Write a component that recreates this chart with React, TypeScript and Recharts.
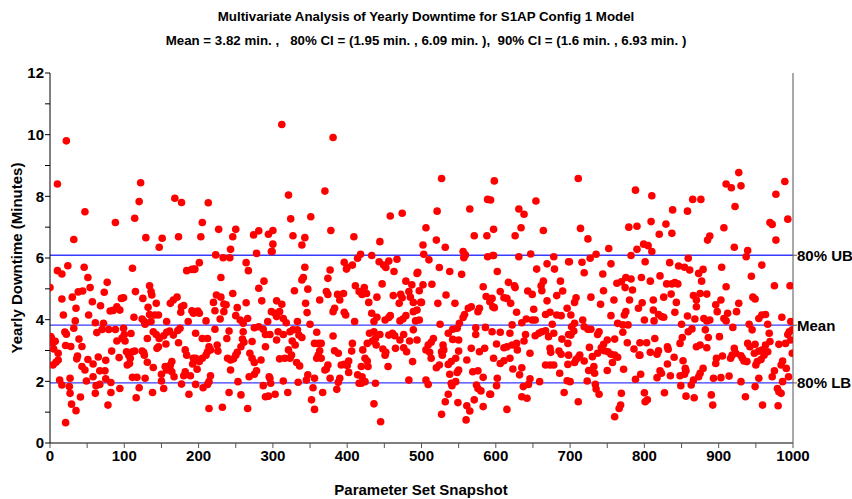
import React from 'react';
import { ScatterChart, Scatter, XAxis, YAxis, ReferenceLine } from 'recharts';

const titleLine1 = 'Multivariate Analysis of Yearly Downtime for S1AP Config 1 Model';
const titleLine2 = 'Mean = 3.82 min. ,   80% CI = (1.95 min. , 6.09 min. ),  90% CI = (1.6 min. , 6.93 min. )';
const xAxisTitle = 'Parameter Set Snapshot';
const yAxisTitle = 'Yearly Downtime (Minutes)';

const meanValue = 3.82;
const lower80 = 1.95;
const upper80 = 6.09;
const refLabels: Record<string, string> = { '1.95': '80% LB', '3.82': 'Mean', '6.09': '80% UB' };

const xTicks = [0, 50, 100, 150, 200, 250, 300, 350, 400, 450, 500, 550, 600, 650, 700, 750, 800, 850, 900, 950, 1000];
const yTicks = [0, 1, 2, 3, 4, 5, 6, 7, 8, 9, 10, 11, 12];

// [snapshot, yearly downtime (min)], by region
const snap0to100 = [
  [0,5.04],[10,8.4],[22,9.8],[47,7.5],[88,7.15],[32,6.6],[10,5.59],[16,5.48],[24,5.75],[46,5.7],[51,5.37],[16,4.67],[30,4.73],[35,4.37],[38,4.9],[44,4.93],[54,5.04],[77,5.21],[73,4.89],[57,4.58],[68,4.45],[52,4.15],[18,4.15],[34,3.96],[61,3.9],[72,3.88],[81,4.28],[85,4.3],[90,4.42],[96,4.69],[94,4.31],[2,3.4],[4,3.25],[7,3.3],[20,3.6],[22,3.53],[32,3.72],[63,3.58],[70,3.68],[79,3.68],[88,3.68],[39,3.37],[21,3.16],[28,3.13],[43,3.13],[11,2.91],[90,3.31],[97,3.4],[83,2.98],[37,2.82],[36,2.73],[51,2.71],[65,2.79],[75,2.68],[93,2.77],[11,2.69],[4,2.53],[43,2.48],[47,2.37],[58,2.56],[67,2.34],[74,2.34],[13,2.04],[16,1.88],[27,2.1],[26,1.83],[49,2.01],[58,2.15],[62,1.86],[67,1.9],[75,2.08],[82,1.96],[94,1.77],[27,1.61],[61,1.61],[82,1.64],[41,1.49],[29,1.26],[78,1.23],[35,1.05],[21,0.66],[1,3.45],[5,3.05],[8,2.62]
];
const snap100to200 = [
  [122,8.44],[120,7.83],[114,7.29],[129,6.66],[151,6.64],[147,6.35],[173,6.69],[168,7.94],[177,7.8],[111,5.67],[184,5.59],[191,5.63],[194,5.63],[99,4.71],[115,4.91],[125,4.69],[134,5.1],[136,4.91],[137,4.8],[132,4.4],[143,4.53],[162,4.53],[166,4.64],[171,4.73],[177,4.42],[180,4.46],[191,4.29],[193,4.21],[113,4.08],[124,4.02],[127,3.94],[128,3.85],[136,3.94],[134,4.17],[141,4.15],[146,4.15],[157,3.94],[176,4.24],[186,3.94],[99,3.72],[100,3.52],[101,3.31],[109,3.55],[139,3.61],[143,3.52],[147,3.39],[153,3.48],[157,3.59],[161,3.63],[166,3.5],[172,3.65],[175,3.72],[131,3.39],[156,3.21],[173,3.25],[146,3.12],[144,3.07],[103,2.96],[106,2.85],[108,2.75],[111,2.96],[114,2.98],[107,2.58],[104,2.53],[124,2.98],[126,2.94],[127,2.85],[182,3.02],[184,2.85],[193,2.75],[131,2.62],[139,2.45],[164,2.64],[162,2.53],[161,2.42],[155,2.48],[157,2.37],[164,2.31],[167,2.15],[192,2.56],[182,2.31],[180,2.18],[189,2.18],[111,2.13],[117,2.13],[128,2.1],[150,2.23],[150,2.01],[120,1.79],[153,1.77],[177,1.91],[116,1.47],[138,1.64],[187,1.58]
];
const snap200to300 = [
  [213,7.79],[205,7.15],[203,6.69],[227,6.93],[250,6.93],[246,6.69],[274,6.75],[281,6.88],[294,6.77],[243,6.28],[223,6.1],[233,6.01],[242,6.01],[278,6.15],[298,6.21],[201,5.85],[195,5.64],[264,5.85],[267,5.59],[230,5.37],[288,5.25],[281,5.02],[246,4.85],[224,4.8],[230,4.73],[234,4.51],[237,4.48],[220,4.56],[222,4.29],[199,4.28],[201,4.21],[234,4.26],[252,4.39],[264,4.55],[285,4.61],[229,4.02],[210,3.96],[250,4.13],[256,3.99],[260,3.88],[266,4.04],[275,3.74],[281,3.77],[287,3.69],[290,3.52],[293,3.94],[298,4.26],[196,3.56],[205,3.39],[212,3.39],[222,3.69],[241,3.63],[260,3.61],[259,3.37],[261,3.27],[272,3.29],[257,3.12],[238,3.39],[214,3.12],[216,3.02],[212,2.96],[225,3.18],[226,2.98],[252,2.94],[250,2.85],[247,2.73],[269,2.91],[290,3.12],[196,2.75],[201,2.64],[205,2.75],[210,2.85],[239,2.75],[243,2.69],[272,2.75],[275,2.61],[284,2.69],[198,2.39],[243,2.37],[278,2.34],[275,2.23],[268,2.15],[216,2.18],[214,1.99],[212,1.9],[253,1.99],[295,2.15],[297,1.94],[196,1.9],[206,1.79],[287,1.86],[241,1.64],[257,1.56],[290,1.5],[214,1.12],[232,1.16],[266,1.12]
];
const snap300to400 = [
  [312,10.33],[381,9.91],[321,8.04],[370,8.17],[324,7.27],[351,7.34],[300,6.89],[327,6.72],[343,6.66],[339,6.42],[378,6.89],[300,6.45],[299,6.21],[343,5.7],[341,5.37],[339,5.29],[377,5.61],[374,5.34],[396,5.86],[399,5.64],[347,4.99],[329,4.94],[372,4.91],[374,4.82],[387,4.82],[395,4.85],[363,4.64],[305,4.61],[312,4.5],[344,4.53],[390,4.64],[383,4.37],[381,4.26],[303,4.21],[309,4.26],[346,4.23],[396,4.24],[305,4.1],[314,4.04],[318,3.9],[333,3.94],[350,3.85],[296,3.52],[307,3.61],[305,3.34],[314,3.52],[323,3.61],[327,3.67],[333,3.67],[335,3.5],[359,3.59],[339,3.42],[381,3.47],[356,3.23],[361,3.23],[365,3.23],[326,3.31],[330,3.18],[321,3.02],[363,2.99],[361,2.85],[365,2.75],[359,2.75],[383,2.99],[388,2.91],[309,2.73],[316,2.75],[323,2.75],[325,2.85],[332,2.61],[336,2.5],[374,2.53],[372,2.4],[370,2.37],[392,2.53],[347,2.21],[345,2.04],[356,2.1],[377,2.1],[296,2.1],[314,2.01],[334,1.97],[390,2.1],[388,1.97],[354,1.79],[303,1.58],[320,1.64],[367,1.64],[386,1.74],[352,1.4],[356,1.09],[294,1.52]
];
const snap400to500 = [
  [458,7.36],[474,7.45],[409,6.69],[444,6.53],[418,6.12],[414,5.99],[407,5.77],[400,5.7],[433,6.08],[443,5.88],[449,5.77],[452,5.69],[456,5.9],[467,5.96],[463,5.56],[494,5.5],[447,5.16],[479,5.25],[487,5.13],[411,5.1],[416,4.91],[420,4.82],[423,5.04],[426,4.85],[429,4.56],[440,4.73],[462,4.78],[472,4.82],[474,4.71],[483,4.91],[485,4.73],[489,4.56],[470,4.53],[497,4.94],[499,4.56],[398,4.15],[433,4.21],[440,4.08],[436,3.94],[451,3.99],[456,4.07],[458,4.13],[410,3.94],[471,3.96],[475,4.02],[479,4.13],[489,4.26],[492,3.96],[497,3.99],[494,4.31],[430,3.56],[436,3.61],[438,3.39],[434,3.31],[439,3.18],[444,3.52],[456,3.5],[461,3.56],[464,3.48],[471,3.34],[476,3.52],[489,3.67],[494,3.34],[484,3.31],[407,3.23],[421,3.02],[427,3.23],[448,3.05],[452,2.94],[451,2.85],[465,3.07],[476,3.09],[480,2.96],[406,2.98],[424,2.75],[427,2.66],[488,2.64],[396,2.55],[402,2.66],[400,2.51],[419,2.48],[428,2.48],[455,2.48],[402,2.29],[414,2.21],[420,2.15],[416,1.94],[419,1.94],[424,1.99],[438,1.94],[483,2.04],[436,1.27],[445,0.69]
];
const snap500to600 = [
  [527,8.58],[598,8.5],[589,7.9],[521,7.52],[565,7.59],[506,6.98],[571,6.72],[588,6.72],[597,6.93],[520,6.58],[502,6.42],[532,6.35],[556,6.21],[559,6.1],[557,6.01],[503,6.12],[510,5.94],[589,6.04],[597,6.08],[495,5.54],[524,5.69],[538,5.56],[554,5.47],[502,5.13],[514,5.15],[583,5.07],[533,4.8],[522,4.53],[545,4.53],[587,4.75],[592,4.58],[596,4.42],[500,4.56],[567,4.42],[563,4.37],[578,4.37],[576,4.26],[558,4.17],[556,4.07],[525,3.85],[551,3.88],[548,3.72],[542,3.69],[536,3.56],[573,3.74],[573,3.52],[586,3.75],[595,3.61],[516,3.39],[513,3.27],[509,3.18],[506,3.02],[511,2.94],[513,2.75],[529,3.18],[527,2.96],[530,3.02],[528,2.85],[542,3.36],[550,3.34],[567,3.07],[578,2.96],[585,3.07],[550,2.98],[561,2.69],[546,2.75],[540,2.64],[536,2.55],[520,2.44],[524,2.53],[550,2.37],[548,2.29],[538,2.23],[569,2.31],[576,2.34],[583,2.13],[506,2.04],[509,1.9],[540,1.94],[541,1.86],[546,1.99],[574,1.88],[576,1.77],[580,1.69],[592,1.58],[536,1.58],[532,1.34],[549,1.31],[571,1.4],[583,1.18],[561,1.21],[565,1.04],[527,0.93],[560,0.75]
];
const snap600to700 = [
  [654,7.85],[593,7.88],[631,7.59],[638,7.42],[634,6.98],[626,6.72],[664,6.89],[596,6.08],[631,6.04],[647,6.13],[678,6.04],[698,5.88],[602,5.56],[655,5.64],[669,5.81],[679,5.64],[617,5.21],[625,5.1],[626,5.04],[664,5.25],[661,5.1],[662,4.94],[687,5.25],[643,4.93],[649,4.82],[606,4.91],[611,4.71],[615,4.69],[620,4.53],[595,4.69],[598,4.39],[682,4.78],[690,4.93],[669,4.61],[628,4.24],[651,4.34],[667,4.17],[673,4.24],[682,4.15],[688,4.13],[696,4.37],[641,4.02],[649,3.99],[653,3.99],[635,3.9],[622,3.83],[676,3.85],[606,3.59],[619,3.56],[638,3.31],[640,3.52],[653,3.48],[658,3.56],[662,3.61],[667,3.64],[671,3.45],[678,3.56],[689,3.37],[698,3.52],[697,3.23],[601,3.21],[611,3.09],[615,3.12],[622,3.18],[628,3.23],[629,3.02],[673,3.07],[674,2.94],[685,2.98],[606,2.58],[611,2.67],[619,2.75],[597,2.75],[646,2.91],[688,2.88],[698,2.85],[697,2.55],[623,2.4],[635,2.44],[632,2.21],[667,2.53],[673,2.53],[678,2.53],[686,2.26],[602,2.1],[601,1.86],[646,2.08],[644,1.9],[637,1.83],[659,1.99],[696,2.02],[593,1.58],[635,1.5],[642,1.45],[692,1.64],[615,1.09]
];
const snap700to800 = [
  [711,8.58],[788,8.2],[714,6.96],[724,6.62],[779,7.0],[790,7.03],[752,6.31],[799,6.45],[790,6.28],[735,6.12],[727,5.99],[782,6.08],[699,5.88],[716,5.86],[755,5.81],[719,5.52],[744,5.48],[763,5.18],[769,5.23],[775,5.37],[774,5.04],[782,5.32],[784,4.96],[745,4.94],[708,4.71],[706,4.56],[728,4.73],[741,4.5],[759,4.64],[780,4.64],[701,4.15],[775,4.26],[773,4.15],[792,4.37],[755,4.13],[706,3.88],[717,3.99],[702,3.77],[719,3.77],[724,3.69],[728,3.69],[739,3.61],[737,3.52],[764,3.88],[771,3.83],[778,3.83],[771,3.59],[760,3.37],[750,3.34],[701,3.5],[705,3.63],[726,3.1],[742,3.09],[745,3.2],[777,3.25],[786,3.05],[746,2.99],[751,2.96],[755,2.88],[760,2.85],[764,2.78],[713,2.85],[711,2.77],[708,2.71],[737,2.91],[730,2.8],[793,2.85],[706,2.61],[719,2.66],[757,2.61],[732,2.48],[725,2.35],[733,2.26],[750,2.35],[772,2.39],[795,2.23],[788,2.07],[700,1.99],[723,2.01],[734,1.9],[735,1.75],[739,1.58],[769,1.61],[800,1.63],[768,1.23],[766,1.12],[760,0.85],[711,1.34]
];
const snap800to900 = [
  [810,8.02],[865,7.9],[876,7.9],[838,7.56],[858,7.52],[809,7.18],[829,7.1],[820,6.77],[837,6.8],[888,6.71],[885,6.58],[805,6.4],[810,6.21],[859,5.99],[801,5.88],[834,5.85],[846,5.74],[854,5.7],[861,5.61],[873,5.5],[879,5.63],[796,5.37],[808,5.25],[821,5.42],[830,5.16],[837,5.16],[841,5.2],[845,5.16],[877,5.25],[866,4.78],[870,4.64],[875,4.85],[884,4.83],[836,4.83],[812,4.64],[826,4.73],[797,4.55],[843,4.56],[870,4.42],[896,4.48],[812,4.31],[819,4.17],[823,4.1],[826,4.08],[841,4.24],[858,4.12],[800,3.99],[813,3.96],[850,3.85],[868,4.02],[880,4.04],[888,3.99],[864,3.7],[859,3.61],[884,3.96],[882,3.67],[886,3.42],[851,3.42],[848,3.23],[814,3.39],[794,3.25],[803,3.25],[831,3.12],[832,3.04],[870,3.12],[875,3.18],[884,3.09],[808,2.94],[817,2.88],[819,2.99],[794,2.85],[840,2.78],[852,2.67],[831,2.56],[855,2.42],[821,2.34],[823,2.26],[817,2.12],[835,2.18],[848,2.18],[856,2.34],[854,2.23],[879,2.42],[875,2.26],[873,2.15],[866,2.04],[893,2.1],[849,1.86],[863,1.88],[827,1.63],[801,1.34],[804,1.4],[856,1.52],[867,1.47],[890,1.56],[892,1.23]
];
const snap900to1000 = [
  [927,8.77],[910,8.4],[917,8.28],[930,8.34],[989,8.48],[977,8.07],[922,7.67],[993,7.26],[969,7.15],[972,7.09],[907,6.98],[977,6.58],[921,6.35],[939,6.24],[937,6.04],[958,5.77],[904,5.7],[944,5.41],[910,5.07],[975,5.1],[996,5.1],[946,4.73],[949,4.67],[927,4.53],[903,4.64],[898,4.26],[924,4.26],[912,4.21],[907,4.04],[910,3.96],[958,4.15],[963,4.17],[954,4.04],[985,4.08],[997,3.94],[919,3.75],[941,3.85],[945,3.67],[968,3.56],[966,3.85],[995,3.61],[999,3.67],[993,3.52],[901,3.45],[939,3.23],[942,3.12],[949,3.2],[969,3.29],[963,3.18],[981,3.2],[990,3.23],[997,3.34],[999,2.91],[921,3.07],[923,2.91],[918,2.85],[916,2.75],[905,2.82],[897,2.75],[930,2.83],[932,2.75],[934,2.66],[948,2.91],[954,2.98],[959,3.02],[961,2.85],[966,2.96],[938,2.64],[957,2.71],[952,2.64],[950,2.53],[986,2.66],[984,2.53],[991,2.42],[896,2.58],[975,2.34],[972,2.15],[914,2.17],[930,1.99],[903,2.12],[954,2.1],[994,2.15],[986,1.99],[949,1.83],[979,1.77],[984,1.61],[981,1.66],[936,1.5],[959,1.23],[980,1.21]
];

const regions = [snap0to100, snap100to200, snap200to300, snap300to400, snap400to500, snap500to600, snap600to700, snap700to800, snap800to900, snap900to1000];
const points = regions.flat().map(([x, y]) => ({ x, y }));

const FONT = '"Liberation Sans", Arial, Helvetica, sans-serif';

const Dot = (props: any) => {
  const { cx, cy } = props;
  if (cx == null || cy == null) return <g />;
  return <circle cx={cx} cy={cy} r={3.8} fill="#ff0000" />;
};

const XTick = (props: any) => {
  const { x, y, payload } = props;
  if (payload.value % 100 !== 0) return <g />;
  return (
    <text x={x} y={y} dy="0.72em" textAnchor="middle" fontFamily={FONT} fontWeight="bold" fontSize={15} fill="#000">
      {payload.value}
    </text>
  );
};

const YTick = (props: any) => {
  const { x, y, payload } = props;
  if (payload.value % 2 !== 0) return <g />;
  return (
    <text x={x} y={y} dy="0.36em" textAnchor="end" fontFamily={FONT} fontWeight="bold" fontSize={15} fill="#000">
      {payload.value}
    </text>
  );
};

const RTick = (props: any) => {
  const { x, y, payload } = props;
  const label = refLabels[String(payload.value)] ?? '';
  return (
    <text x={x} y={y} dy="0.36em" textAnchor="start" fontFamily={FONT} fontWeight="bold" fontSize={15} fill="#000">
      {label}
    </text>
  );
};

export default function App() {
  return (
    <div style={{ position: 'absolute', left: 0, top: 0, width: 852, height: 499, background: '#fff' }}>
      <ScatterChart width={852} height={499} margin={{ top: 73, right: 0, left: 0, bottom: 0 }}>
        <XAxis
          type="number"
          dataKey="x"
          domain={[0, 1000]}
          ticks={xTicks}
          interval={0}
          tick={<XTick />}
          tickSize={5}
          tickMargin={2}
          height={56}
          axisLine={{ stroke: '#555', strokeWidth: 1.5 }}
          tickLine={{ stroke: '#555' }}
          allowDataOverflow
        />
        <YAxis
          yAxisId="left"
          type="number"
          dataKey="y"
          domain={[0, 12]}
          ticks={yTicks}
          interval={0}
          tick={<YTick />}
          tickSize={5}
          tickMargin={1}
          width={50}
          axisLine={{ stroke: '#000' }}
          tickLine={{ stroke: '#000' }}
          allowDataOverflow
        />
        <YAxis
          yAxisId="right"
          orientation="right"
          type="number"
          dataKey="y"
          domain={[0, 12]}
          ticks={[lower80, meanValue, upper80]}
          interval={0}
          tick={<RTick />}
          tickSize={4}
          tickMargin={0}
          width={59}
          axisLine={{ stroke: '#555' }}
          tickLine={{ stroke: '#555' }}
          allowDataOverflow
        />
        <ReferenceLine yAxisId="left" y={upper80} stroke="#3a3aff" strokeWidth={1.3} />
        <ReferenceLine yAxisId="left" y={meanValue} stroke="#3a3aff" strokeWidth={1.3} />
        <ReferenceLine yAxisId="left" y={lower80} stroke="#3a3aff" strokeWidth={1.3} />
        <Scatter yAxisId="right" data={[]} isAnimationActive={false} />
        <Scatter yAxisId="left" data={points} shape={<Dot />} isAnimationActive={false} />
      </ScatterChart>
      <svg width={852} height={499} style={{ position: 'absolute', left: 0, top: 0, pointerEvents: 'none' }}>
        <text x={426} y={21} textAnchor="middle" fontFamily={FONT} fontWeight="bold" fontSize={13.3} fill="#000" style={{ whiteSpace: 'pre' }}>{titleLine1}</text>
        <text x={426} y={45} textAnchor="middle" fontFamily={FONT} fontWeight="bold" fontSize={13.3} fill="#000" style={{ whiteSpace: 'pre' }}>{titleLine2}</text>
        <text x={421} y={495} textAnchor="middle" fontFamily={FONT} fontWeight="bold" fontSize={15} fill="#000">{xAxisTitle}</text>
        <text x={22} y={258} textAnchor="middle" fontFamily={FONT} fontWeight="bold" fontSize={15} fill="#000" transform="rotate(-90 22 258)">{yAxisTitle}</text>
      </svg>
    </div>
  );
}
